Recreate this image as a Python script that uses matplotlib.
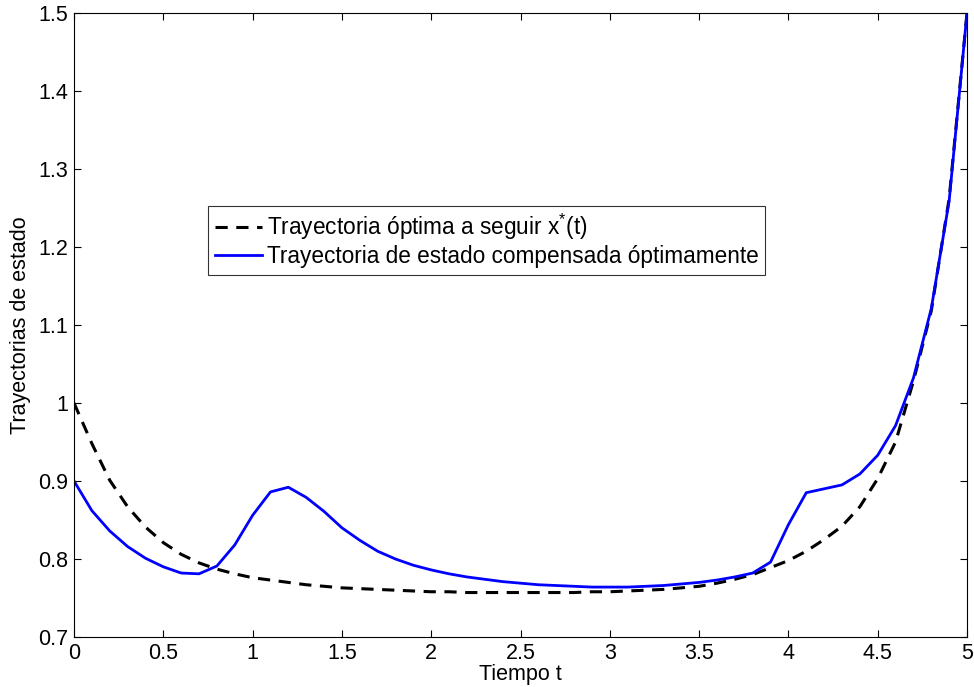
import matplotlib
matplotlib.use("Agg")
import matplotlib.pyplot as plt
import numpy as np

plt.rcParams['font.family'] = ['Liberation Sans', 'DejaVu Sans']
plt.rcParams['mathtext.fontset'] = 'custom'
plt.rcParams['mathtext.rm'] = 'Liberation Sans'

t = [round(0.1 * i, 1) for i in range(51)]

x_opt = [1.000, 0.948, 0.901, 0.867, 0.841, 0.821, 0.806, 0.795, 0.787, 0.781,
         0.776, 0.773, 0.770, 0.767, 0.765, 0.763, 0.762, 0.761, 0.760, 0.759,
         0.758, 0.758, 0.757, 0.757, 0.757, 0.757, 0.757, 0.757, 0.757, 0.758,
         0.758, 0.759, 0.760, 0.761, 0.763, 0.765, 0.769, 0.774, 0.780, 0.789,
         0.798, 0.810, 0.825, 0.842, 0.867, 0.903, 0.950, 1.028, 1.118, 1.262,
         1.500]

x_comp = [0.900, 0.862, 0.836, 0.816, 0.801, 0.790, 0.782, 0.781, 0.791, 0.818,
          0.856, 0.886, 0.892, 0.879, 0.861, 0.840, 0.824, 0.810, 0.800, 0.792,
          0.786, 0.781, 0.777, 0.774, 0.771, 0.769, 0.767, 0.766, 0.765, 0.764,
          0.764, 0.764, 0.765, 0.766, 0.768, 0.770, 0.773, 0.777, 0.782, 0.796,
          0.844, 0.885, 0.890, 0.895, 0.909, 0.933, 0.971, 1.032, 1.121, 1.259,
          1.500]

label_opt = 'Trayectoria óptima a seguir x$^{*}$(t)'
label_comp = 'Trayectoria de estado compensada óptimamente'

W, H = 974, 687
L, R, B, T = 74, 967, 637, 13
fig = plt.figure(figsize=(W/100, H/100), dpi=100)
ax = fig.add_axes([L/W, (H-B)/H, (R-L)/W, (B-T)/H])

ax.plot(t, x_opt, color='black', lw=2.2, ls=(0, (4, 2.8)), label=label_opt)
ax.plot(t, x_comp, color='#0000ff', lw=2.0, label=label_comp)

ax.set_xlim(0, 5)
ax.set_ylim(0.7, 1.5)
ax.set_xticks(np.arange(0, 5.01, 0.5))
ax.set_xticklabels(['0', '0.5', '1', '1.5', '2', '2.5', '3', '3.5', '4', '4.5', '5'])
ax.set_yticks(np.arange(0.7, 1.501, 0.1))
ax.set_yticklabels(['0.7', '0.8', '0.9', '1', '1.1', '1.2', '1.3', '1.4', '1.5'])
ax.tick_params(direction='in', top=True, right=True, length=5, width=0.8,
               labelsize=15.5, pad=4.3)
for s in ax.spines.values():
    s.set_linewidth(0.8)

ax.set_xlabel('Tiempo t', fontsize=15.5)
ax.set_ylabel('Trayectorias de estado', fontsize=15.5)
ax.xaxis.set_label_coords(0.5, -(664 - B) / (B - T))
ax.yaxis.set_label_coords(-(74 - 31) / (R - L), 0.5)

leg = ax.legend(loc='upper left', bbox_to_anchor=((208 - L) / (R - L), (B - 205.5) / (B - T)),
                fontsize=16.3, frameon=True, fancybox=False, edgecolor='black',
                borderpad=0.3, handlelength=2.1, handletextpad=0.2,
                labelspacing=0.1, borderaxespad=0)
leg.get_frame().set_linewidth(0.8)

fig.savefig('out.png', dpi=100)
